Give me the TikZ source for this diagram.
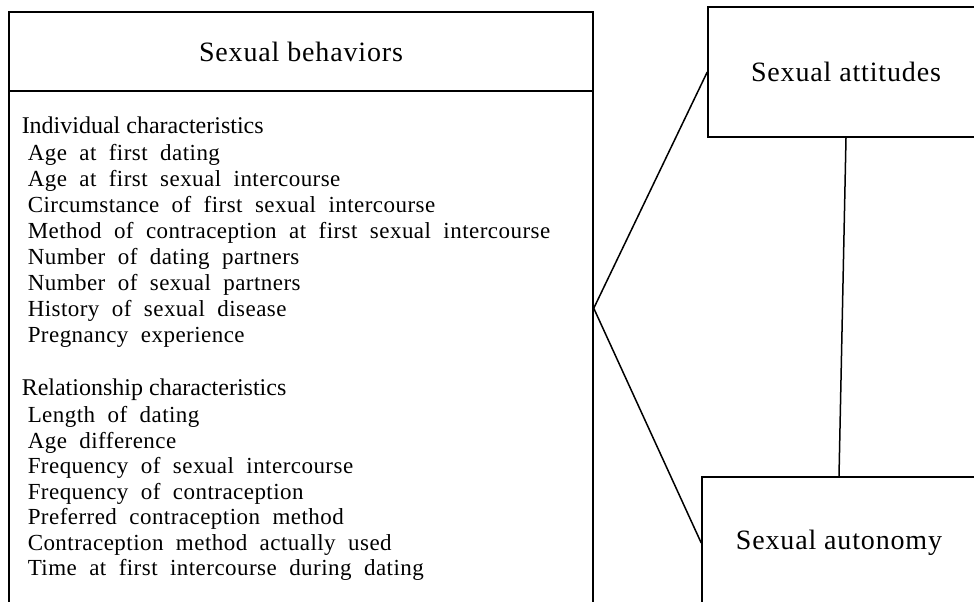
\documentclass[tikz,border=0pt]{standalone}
\usepackage{fontspec}
\setmainfont{Liberation Serif}
\newfontfamily\listfont{Liberation Serif}[LetterSpace=2,WordSpace=2]
\newfontfamily\boxfont{Liberation Serif}[LetterSpace=3]
\usetikzlibrary{positioning,calc}

\begin{document}
\begin{tikzpicture}[x=1pt, y=-1pt, line width=1.5pt,
  frame/.style={draw=black, shape=rectangle, inner sep=0, font=\boxfont\fontsize{28}{30}\selectfont},
  group/.style={anchor=west, inner sep=0, text height=16pt, text depth=5pt, font=\fontsize{24}{26}\selectfont},
  entry/.style={anchor=west, inner sep=0, text height=16pt, text depth=5pt, font=\listfont\fontsize{23}{25}\selectfont}]

\useasboundingbox (0,0) rectangle (974,602);
\clip (0,0) rectangle (974,602);

\path (301, 51.5) node[frame, minimum width=584pt, minimum height=79pt] (title) {Sexual behaviors};
\path (301, 366) node[frame, minimum width=584pt, minimum height=550pt] (body) {};

\path (846, 72) node[frame, minimum width=276pt, minimum height=130pt] (attitudes) {Sexual attitudes};
\path (839, 543) node[frame, minimum width=274pt, minimum height=132pt] (autonomy) {Sexual autonomy};

\path (21, 128) node[group] (indiv) {Individual characteristics};
\foreach \txt [count=\i] in {Age at first dating, Age at first sexual intercourse, Circumstance of first sexual intercourse, Method of contraception at first sexual intercourse, Number of dating partners, Number of sexual partners, History of sexual disease, Pregnancy experience}
  \path (27, {129+26*\i}) node[entry] (ind\i) {\txt};

\path (21, 390) node[group] (relat) {Relationship characteristics};
\foreach \txt [count=\i] in {Length of dating, Age difference, Frequency of sexual intercourse, Frequency of contraception, Preferred contraception method, Contraception method actually used, Time at first intercourse during dating}
  \path (27, {391.5+25.5*\i}) node[entry] (rel\i) {\txt};

\coordinate (hub) at ([yshift=-218pt]body.north east);
\draw (hub) -- (attitudes.west);
\draw (hub) -- (autonomy.west);
\draw (attitudes.south) -- (autonomy.north);
\end{tikzpicture}
\end{document}
